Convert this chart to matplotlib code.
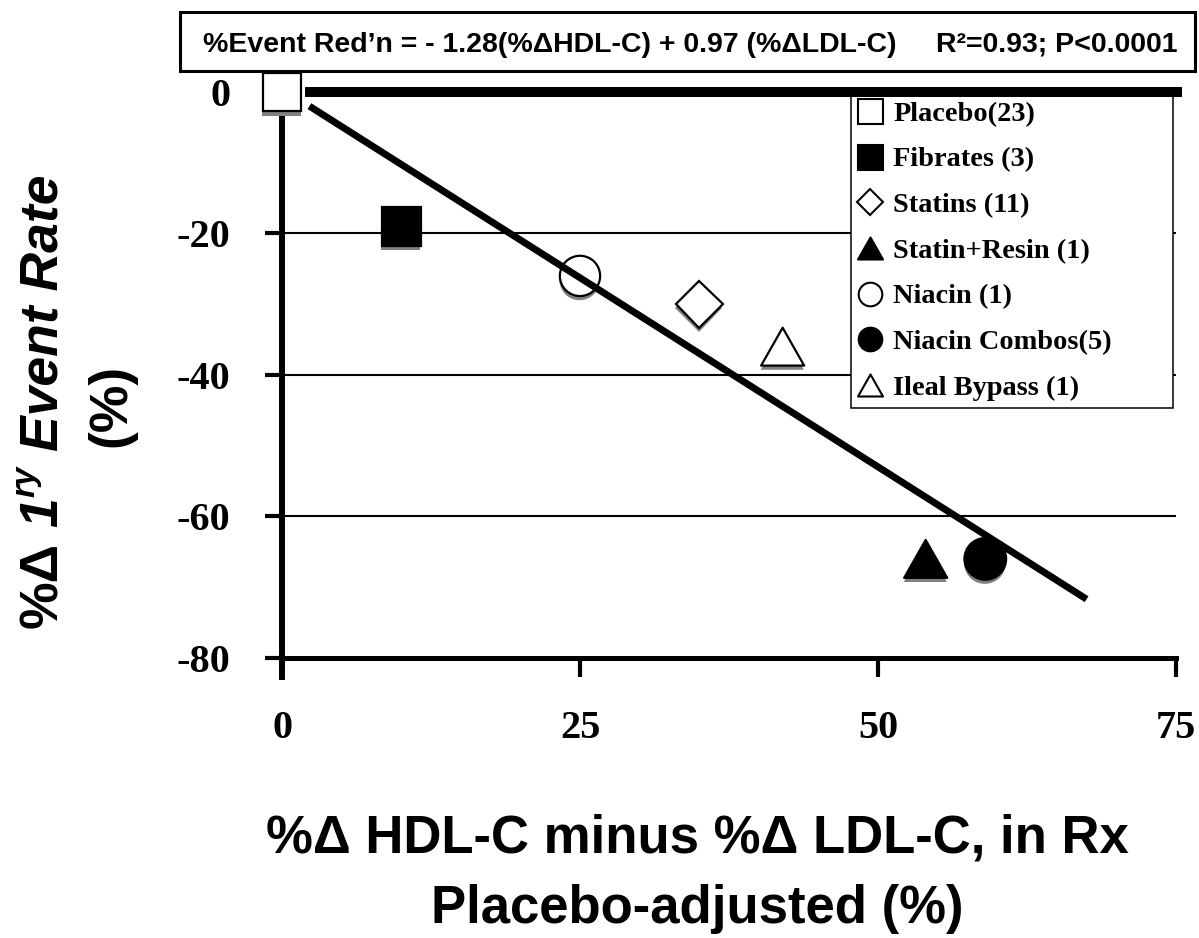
import matplotlib
matplotlib.use('Agg')
import matplotlib.pyplot as plt
import matplotlib.patheffects as pe
from matplotlib.lines import Line2D
from matplotlib.patches import Rectangle
from matplotlib.path import Path

W, H = 1199, 938
DPI = 100

# ---------------- data ----------------
groups = ['Placebo(23)', 'Fibrates (3)', 'Statins (11)', 'Statin+Resin (1)',
          'Niacin (1)', 'Niacin Combos(5)', 'Ileal Bypass (1)']
x_vals = [0, 10, 35, 54, 25, 59, 42]
y_vals = [0, -19, -30, -66, -26, -66, -36]
fit_x = [2.3, 67.5]
fit_y = [-2.0, -71.7]
zero_line_x = [1.9, 75.5]
x_ticks = [0, 25, 50, 75]
y_ticks = [0, -20, -40, -60, -80]
grid_y = [-20, -40, -60]
equation = "%Event Red\u2019n = - 1.28(%\u0394HDL-C) + 0.97 (%\u0394LDL-C)"
stats = "R\u00b2=0.93; P<0.0001"
xlabel_lines = ["%\u0394 HDL-C minus %\u0394 LDL-C, in Rx", "Placebo-adjusted (%)"]
ylabel_parts = ["%\u0394", "1", "ry", "Event Rate"]
ylabel_line2 = "(%)"

# ---------------- styles ----------------
tri = Path([(-1, -0.88), (1, -0.88), (0, 0.88), (-1, -0.88)],
           [Path.MOVETO, Path.LINETO, Path.LINETO, Path.CLOSEPOLY])
markers = ['s', 's', 'D', tri, 'o', 'o', tri]
faces = ['white', 'black', 'white', 'black', 'white', 'black', 'white']
msizes = [28, 28, 24, 31, 29, 30, 31]
leg_ms = [18, 18, 13, 18, 17, 17, 18]

SANS = 'Liberation Sans'
SERIF = 'Liberation Serif'

fig = plt.figure(figsize=(W / DPI, H / DPI), dpi=DPI)
ax = fig.add_axes([282 / W, 1 - 677 / H, (1176 - 282) / W, (677 - 92) / H])
ax.set_xlim(0, 75)
ax.set_ylim(-82.7, 0)
for s in ['top', 'right']:
    ax.spines[s].set_visible(False)
ax.spines['bottom'].set_position(('data', -80))
ax.spines['left'].set_linewidth(4.3)
ax.spines['bottom'].set_linewidth(3.6)

ax.hlines(grid_y, 0, 75, colors='black', lw=1.5, zorder=1)
ax.plot(zero_line_x, [0, 0], color='black', lw=7.2, solid_capstyle='butt',
        clip_on=False, zorder=6)

shadow = [pe.SimplePatchShadow(offset=(-0.3, -3.0), shadow_rgbFace='#808080', alpha=1.0),
          pe.Normal()]
for i in range(len(groups)):
    ax.plot([x_vals[i]], [y_vals[i]], ls='none', marker=markers[i], ms=msizes[i],
            mfc=faces[i], mec='black', mew=1.6, clip_on=False, zorder=3,
            path_effects=shadow)

ax.plot(fit_x, fit_y, color='black', lw=5, solid_capstyle='butt', zorder=4)

ax.set_xticks(x_ticks, labels=[str(v) for v in x_ticks])
ax.set_yticks(y_ticks, labels=[str(v) for v in y_ticks])
ax.tick_params(axis='x', direction='out', length=13.7, width=3, pad=24, labelsize=29)
ax.tick_params(axis='y', direction='out', length=12, width=3, pad=25, labelsize=29)
for lab in ax.get_xticklabels() + ax.get_yticklabels():
    lab.set_fontfamily(SERIF)
    lab.set_fontweight('bold')

# legend frame (wider than its content, as in the original)
ax.add_patch(Rectangle((851 / W, 1 - 408 / H), (1173 - 851) / W, (408 - 88) / H,
                       transform=fig.transFigure, fc='white', ec='black', lw=1.1,
                       zorder=5, clip_on=False))
handles = [Line2D([], [], ls='none', marker=markers[i], ms=leg_ms[i], mfc=faces[i],
                  mec='black', mew=1.5) for i in range(len(groups))]
leg = ax.legend(handles, groups, loc='upper left',
                bbox_to_anchor=(856 / W, 1 - 101 / H), bbox_transform=fig.transFigure,
                prop={'family': SERIF, 'weight': 'bold', 'size': 20.4},
                handlelength=1.0, handletextpad=0.31, borderpad=0,
                labelspacing=0.70, borderaxespad=0, frameon=False)
leg.set_zorder(5.5)

# ---------------- texts ----------------
fig.canvas.draw()
r = fig.canvas.get_renderer()


def text_w(s, size, style='normal'):
    t = fig.text(0, 0, s, fontsize=size, family=SANS, weight='bold', style=style)
    w = t.get_window_extent(r).width
    t.remove()
    return w


# equation box
fig.add_artist(Rectangle((180 / W, 1 - 71 / H), (1195 - 180) / W, 59 / H,
                         transform=fig.transFigure, fill=False, lw=2.2, ec='black'))
eq_size = 20 * 694 / text_w(equation, 20)
fig.text(203 / W, 1 - 52 / H, equation, fontsize=eq_size, family=SANS, weight='bold',
         ha='left', va='baseline')
fig.text(1178 / W, 1 - 52 / H, stats, fontsize=eq_size, family=SANS, weight='bold',
         ha='right', va='baseline')

# x label
fig.text(697 / W, 1 - 852 / H, xlabel_lines[0], fontsize=38, family=SANS, weight='bold',
         ha='center', va='baseline')
fig.text(697 / W, 1 - 923 / H, xlabel_lines[1], fontsize=38, family=SANS, weight='bold',
         ha='center', va='baseline')

# y label (rotated, mixed styles)
styles = ['normal', 'italic', 'italic', 'italic']
scales = [1.0, 1.0, 0.62, 1.0]
rises = [0.0, 0.0, 0.42, 0.0]
space_before = [0, 1, 0, 1]


def total_len(s):
    sp = text_w("a a", s) - text_w("aa", s)
    L = 0
    for txt, st, sc, sb in zip(ylabel_parts, styles, scales, space_before):
        L += sb * sp + text_w(txt, s * sc, st)
    return L


s0 = 38
ys = s0 * 453 / total_len(s0)
sp_w = text_w("a a", ys) - text_w("aa", ys)
em = ys * DPI / 72
base_x = 57
y = H - 628
for txt, st, sc, rs, sb in zip(ylabel_parts, styles, scales, rises, space_before):
    y += sb * sp_w
    fs = ys * sc
    fig.text((base_x - rs * em) / W, y / H, txt, rotation=90, rotation_mode='anchor',
             ha='left', va='baseline', fontsize=fs, family=SANS, weight='bold', style=st)
    y += text_w(txt, fs, st)

fig.text(125 / W, 1 - 405 / H, ylabel_line2, rotation=90, rotation_mode='anchor',
         ha='center', va='baseline', fontsize=ys, family=SANS, weight='bold')

fig.savefig('out.png', dpi=DPI)
